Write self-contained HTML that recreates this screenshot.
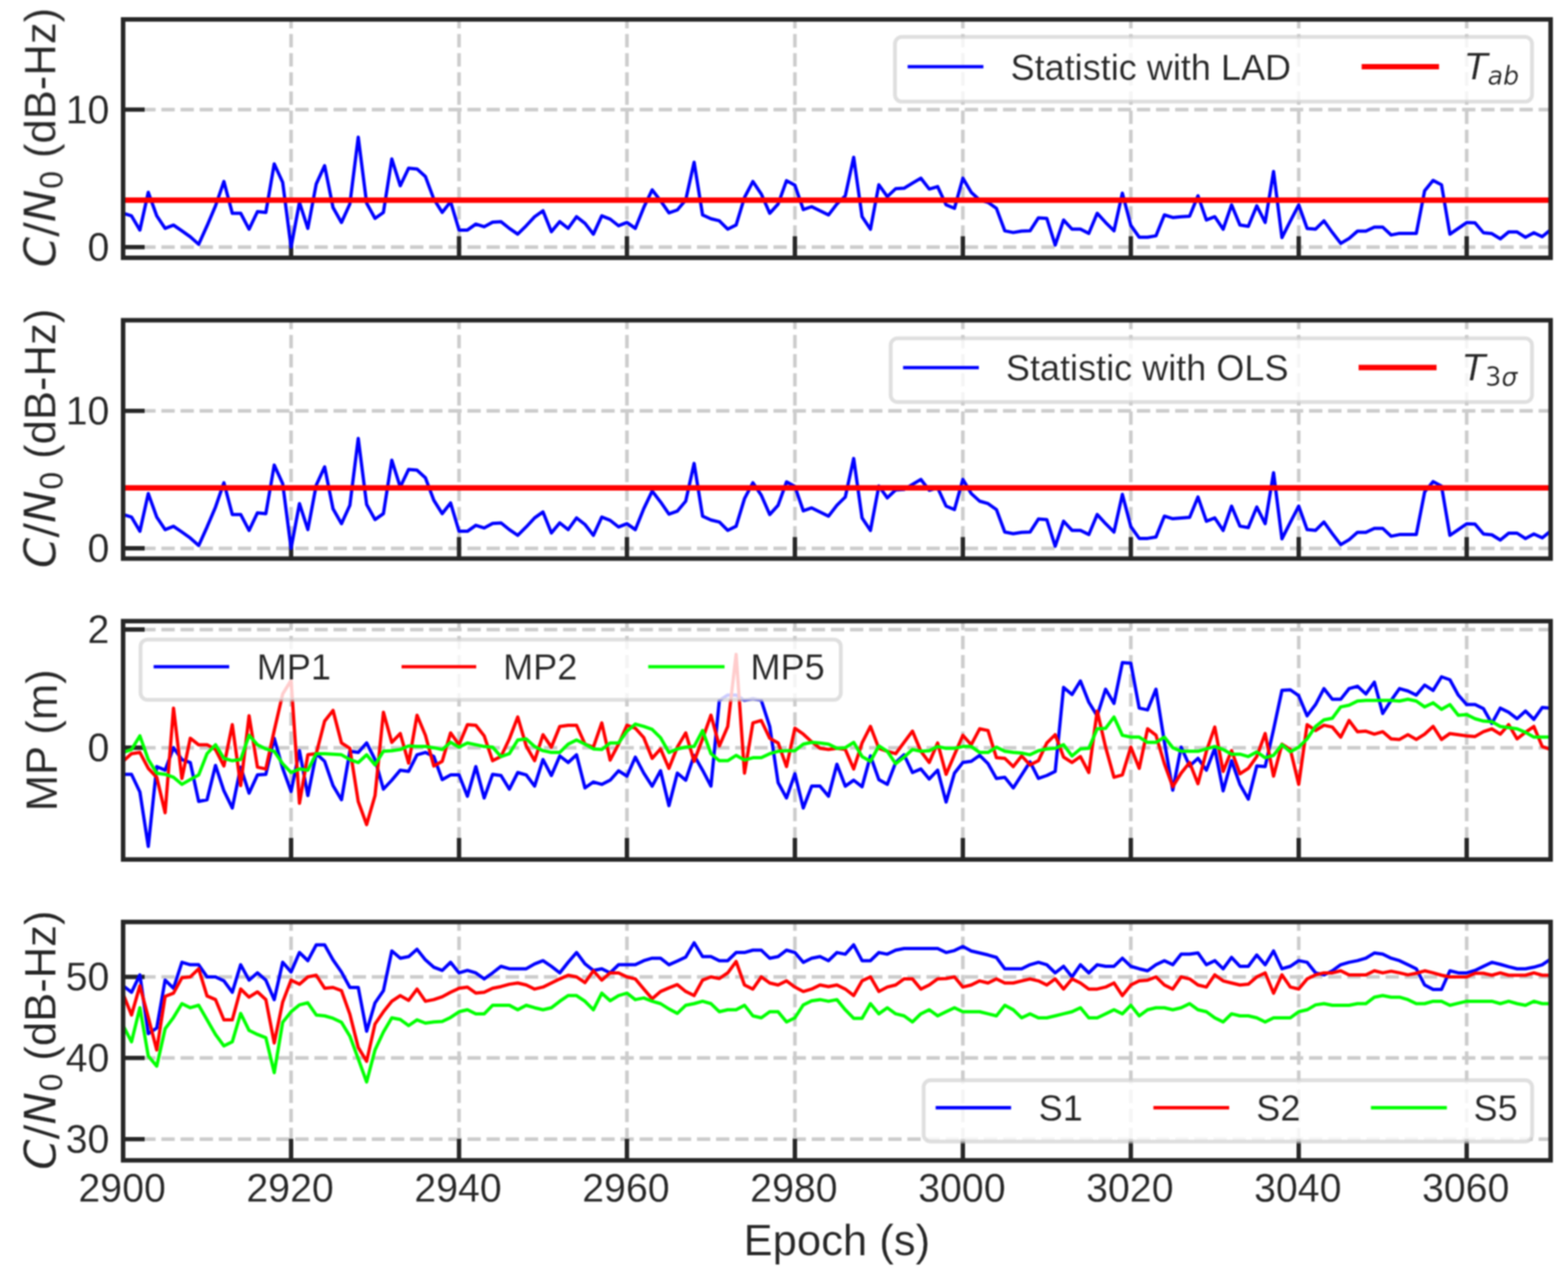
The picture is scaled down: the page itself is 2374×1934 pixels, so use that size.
<!DOCTYPE html>
<html lang="en"><head><meta charset="utf-8"><title>Statistic, MP and C/N0 versus Epoch</title>
<style>html,body{margin:0;padding:0;background:#fff}body{width:2374px;height:1934px;overflow:hidden}svg{display:block}text{font-family:'Liberation Sans', Arial, Helvetica, sans-serif;stroke:#fff;stroke-width:0.25px;paint-order:fill stroke}</style>
</head><body>
<svg width="2374" height="1934" viewBox="0 0 2374 1934" fill="#262626">
<defs>
<clipPath id="c0"><rect x="186.4" y="29.4" width="2161.3" height="361.0"/></clipPath>
<clipPath id="c1"><rect x="186.4" y="485.0" width="2161.3" height="361.0"/></clipPath>
<clipPath id="c2"><rect x="186.4" y="940.7" width="2161.3" height="361.0"/></clipPath>
<clipPath id="c3"><rect x="186.4" y="1396.3" width="2161.3" height="361.0"/></clipPath>
</defs>
<rect width="2374" height="1934" fill="#fff"/>
<g style="filter:blur(1.3px)">
<g id="panel1">
<g stroke="#cccccc" stroke-width="5.45" stroke-dasharray="20.22 8.74" fill="none">
<line x1="186.4" y1="390.4" x2="186.4" y2="29.4"/>
<line x1="440.7" y1="390.4" x2="440.7" y2="29.4"/>
<line x1="695.0" y1="390.4" x2="695.0" y2="29.4"/>
<line x1="949.2" y1="390.4" x2="949.2" y2="29.4"/>
<line x1="1203.5" y1="390.4" x2="1203.5" y2="29.4"/>
<line x1="1457.8" y1="390.4" x2="1457.8" y2="29.4"/>
<line x1="1712.1" y1="390.4" x2="1712.1" y2="29.4"/>
<line x1="1966.3" y1="390.4" x2="1966.3" y2="29.4"/>
<line x1="2220.6" y1="390.4" x2="2220.6" y2="29.4"/>
<line x1="186.4" y1="374.2" x2="2347.7" y2="374.2"/>
<line x1="186.4" y1="166.0" x2="2347.7" y2="166.0"/>
</g>
<g stroke="#262626" stroke-width="6.6">
<line x1="440.7" y1="390.4" x2="440.7" y2="357.8"/>
<line x1="695.0" y1="390.4" x2="695.0" y2="357.8"/>
<line x1="949.2" y1="390.4" x2="949.2" y2="357.8"/>
<line x1="1203.5" y1="390.4" x2="1203.5" y2="357.8"/>
<line x1="1457.8" y1="390.4" x2="1457.8" y2="357.8"/>
<line x1="1712.1" y1="390.4" x2="1712.1" y2="357.8"/>
<line x1="1966.3" y1="390.4" x2="1966.3" y2="357.8"/>
<line x1="2220.6" y1="390.4" x2="2220.6" y2="357.8"/>
<line x1="186.4" y1="374.2" x2="219.0" y2="374.2"/>
<line x1="186.4" y1="166.0" x2="219.0" y2="166.0"/>
</g>
<g clip-path="url(#c0)">
<polyline points="186.4,323.0 199.1,326.9 211.8,348.4 224.5,291.3 237.3,326.9 250.0,345.9 262.7,340.9 275.4,349.6 288.1,358.6 300.8,370.0 313.5,341.9 326.3,311.7 339.0,274.9 351.7,323.0 364.4,323.0 377.1,347.1 389.8,320.5 402.5,321.7 415.2,248.2 428.0,276.3 440.7,374.2 453.4,306.5 466.1,345.9 478.8,278.6 491.5,250.9 504.2,314.2 517.0,336.9 529.7,309.0 542.4,207.8 555.1,307.8 567.8,330.7 580.5,321.7 593.2,240.7 606.0,281.3 618.7,254.7 631.4,255.9 644.1,267.4 656.8,301.5 669.5,321.7 682.2,305.5 695.0,348.4 707.7,348.4 720.4,339.4 733.1,343.4 745.8,336.5 758.5,335.7 771.2,345.9 783.9,354.6 796.7,341.9 809.4,328.2 822.1,319.2 834.8,350.9 847.5,335.7 860.2,345.9 872.9,328.2 885.7,338.2 898.4,354.6 911.1,326.9 923.8,331.9 936.5,341.9 949.2,336.9 961.9,345.9 974.7,314.2 987.4,287.6 1000.1,304.0 1012.8,322.4 1025.5,318.0 1038.2,302.8 1050.9,245.7 1063.7,325.5 1076.4,331.3 1089.1,334.4 1101.8,347.1 1114.5,340.7 1127.2,299.0 1139.9,274.9 1152.6,293.8 1165.4,323.0 1178.1,309.0 1190.8,273.6 1203.5,280.5 1216.2,317.4 1228.9,313.0 1241.6,319.2 1254.4,325.5 1267.1,309.0 1279.8,296.5 1292.5,238.2 1305.2,328.2 1317.9,347.1 1330.6,279.9 1343.4,297.8 1356.1,285.7 1368.8,285.1 1381.5,277.4 1394.2,269.9 1406.9,286.3 1419.6,282.6 1432.4,310.3 1445.1,315.5 1457.8,269.9 1470.5,291.3 1483.2,302.8 1495.9,306.5 1508.6,315.5 1521.3,349.6 1534.1,352.1 1546.8,350.0 1559.5,349.6 1572.2,329.9 1584.9,330.7 1597.6,371.1 1610.3,333.2 1623.1,347.1 1635.8,347.1 1648.5,353.4 1661.2,323.0 1673.9,336.9 1686.6,349.6 1699.3,292.6 1712.1,341.3 1724.8,359.2 1737.5,359.2 1750.2,357.1 1762.9,325.5 1775.6,329.4 1788.3,328.2 1801.1,327.4 1813.8,296.5 1826.5,333.2 1839.2,328.2 1851.9,347.1 1864.6,310.3 1877.3,340.7 1890.0,342.8 1902.8,311.7 1915.5,336.9 1928.2,259.7 1940.9,359.8 1953.6,334.9 1966.3,310.3 1979.0,345.9 1991.8,347.1 2004.5,334.4 2017.2,352.1 2029.9,368.6 2042.6,361.1 2055.3,350.0 2068.0,350.0 2080.8,344.0 2093.5,344.0 2106.2,355.9 2118.9,353.4 2131.6,353.4 2144.3,353.4 2157.0,288.8 2169.8,273.2 2182.5,279.9 2195.2,354.6 2207.9,345.9 2220.6,337.1 2233.3,337.6 2246.0,352.5 2258.7,353.8 2271.5,361.7 2284.2,351.3 2296.9,351.3 2309.6,359.4 2322.3,352.5 2335.0,358.4 2347.7,348.0" fill="none" stroke="#0000ff" stroke-width="5.0" stroke-linejoin="round"/>
<line x1="186.4" y1="303.1" x2="2347.7" y2="303.1" stroke="#ff0000" stroke-width="8.2"/>
</g>
<rect x="186.4" y="29.4" width="2161.3" height="361.0" fill="none" stroke="#262626" stroke-width="6.8"/>
<text transform="translate(165.6,394.8) scale(0.966,1)" font-size="61.6" text-anchor="end">0</text>
<text transform="translate(165.6,186.6) scale(0.966,1)" font-size="61.6" text-anchor="end">10</text>
<text transform="translate(83.6,208.4) rotate(-90)" font-size="66.0" text-anchor="middle"><tspan font-style="italic" style="font-family:'DejaVu Sans', 'Liberation Sans', sans-serif">C</tspan><tspan style="font-family:'DejaVu Sans', 'Liberation Sans', sans-serif">/</tspan><tspan font-style="italic" style="font-family:'DejaVu Sans', 'Liberation Sans', sans-serif">N</tspan><tspan font-size="46.2" dy="10.6" style="font-family:'DejaVu Sans', 'Liberation Sans', sans-serif">0</tspan><tspan dy="-10.6"> (dB-Hz)</tspan></text>
<rect x="1355.0" y="55.9" width="964.5" height="98.0" rx="10.5" ry="10.5" fill="#fff" fill-opacity="0.8" stroke="#cccccc" stroke-opacity="0.62" stroke-width="5.8"/>
<line x1="1374.2" y1="101.0" x2="1488.9" y2="101.0" stroke="#0000ff" stroke-width="5.1"/>
<text x="1530.0" y="120.8" font-size="54.6">Statistic with LAD</text>
<line x1="2061.6" y1="101.0" x2="2178.7" y2="101.0" stroke="#ff0000" stroke-width="8.2"/>
<text x="2219.0" y="119.6" font-size="54.6"><tspan font-style="italic" style="font-family:'DejaVu Sans', 'Liberation Sans', sans-serif">T</tspan><tspan font-size="38.2" dy="8.7" font-style="italic" style="font-family:'DejaVu Sans', 'Liberation Sans', sans-serif">ab</tspan></text>
</g>
<g id="panel2">
<g stroke="#cccccc" stroke-width="5.45" stroke-dasharray="20.22 8.74" fill="none">
<line x1="186.4" y1="846.0" x2="186.4" y2="485.0"/>
<line x1="440.7" y1="846.0" x2="440.7" y2="485.0"/>
<line x1="695.0" y1="846.0" x2="695.0" y2="485.0"/>
<line x1="949.2" y1="846.0" x2="949.2" y2="485.0"/>
<line x1="1203.5" y1="846.0" x2="1203.5" y2="485.0"/>
<line x1="1457.8" y1="846.0" x2="1457.8" y2="485.0"/>
<line x1="1712.1" y1="846.0" x2="1712.1" y2="485.0"/>
<line x1="1966.3" y1="846.0" x2="1966.3" y2="485.0"/>
<line x1="2220.6" y1="846.0" x2="2220.6" y2="485.0"/>
<line x1="186.4" y1="830.4" x2="2347.7" y2="830.4"/>
<line x1="186.4" y1="622.2" x2="2347.7" y2="622.2"/>
</g>
<g stroke="#262626" stroke-width="6.6">
<line x1="440.7" y1="846.0" x2="440.7" y2="813.4"/>
<line x1="695.0" y1="846.0" x2="695.0" y2="813.4"/>
<line x1="949.2" y1="846.0" x2="949.2" y2="813.4"/>
<line x1="1203.5" y1="846.0" x2="1203.5" y2="813.4"/>
<line x1="1457.8" y1="846.0" x2="1457.8" y2="813.4"/>
<line x1="1712.1" y1="846.0" x2="1712.1" y2="813.4"/>
<line x1="1966.3" y1="846.0" x2="1966.3" y2="813.4"/>
<line x1="2220.6" y1="846.0" x2="2220.6" y2="813.4"/>
<line x1="186.4" y1="830.4" x2="219.0" y2="830.4"/>
<line x1="186.4" y1="622.2" x2="219.0" y2="622.2"/>
</g>
<g clip-path="url(#c1)">
<polyline points="186.4,779.2 199.1,783.1 211.8,804.6 224.5,747.5 237.3,783.1 250.0,802.1 262.7,797.1 275.4,805.8 288.1,814.8 300.8,826.2 313.5,798.1 326.3,767.9 339.0,731.1 351.7,779.2 364.4,779.2 377.1,803.3 389.8,776.7 402.5,777.9 415.2,704.4 428.0,732.5 440.7,830.4 453.4,762.7 466.1,802.1 478.8,734.8 491.5,707.1 504.2,770.4 517.0,793.1 529.7,765.2 542.4,664.0 555.1,764.0 567.8,786.9 580.5,777.9 593.2,696.9 606.0,737.5 618.7,710.9 631.4,712.1 644.1,723.6 656.8,757.7 669.5,777.9 682.2,761.7 695.0,804.6 707.7,804.6 720.4,795.6 733.1,799.6 745.8,792.7 758.5,791.9 771.2,802.1 783.9,810.8 796.7,798.1 809.4,784.4 822.1,775.4 834.8,807.1 847.5,791.9 860.2,802.1 872.9,784.4 885.7,794.4 898.4,810.8 911.1,783.1 923.8,788.1 936.5,798.1 949.2,793.1 961.9,802.1 974.7,770.4 987.4,743.8 1000.1,760.2 1012.8,778.6 1025.5,774.2 1038.2,759.0 1050.9,701.9 1063.7,781.7 1076.4,787.5 1089.1,790.6 1101.8,803.3 1114.5,796.9 1127.2,755.2 1139.9,731.1 1152.6,750.0 1165.4,779.2 1178.1,765.2 1190.8,729.8 1203.5,736.7 1216.2,773.6 1228.9,769.2 1241.6,775.4 1254.4,781.7 1267.1,765.2 1279.8,752.7 1292.5,694.4 1305.2,784.4 1317.9,803.3 1330.6,736.1 1343.4,754.0 1356.1,741.9 1368.8,741.3 1381.5,733.6 1394.2,726.1 1406.9,742.5 1419.6,738.8 1432.4,766.5 1445.1,771.7 1457.8,726.1 1470.5,747.5 1483.2,759.0 1495.9,762.7 1508.6,771.7 1521.3,805.8 1534.1,808.3 1546.8,806.2 1559.5,805.8 1572.2,786.1 1584.9,786.9 1597.6,827.3 1610.3,789.4 1623.1,803.3 1635.8,803.3 1648.5,809.6 1661.2,779.2 1673.9,793.1 1686.6,805.8 1699.3,748.8 1712.1,797.5 1724.8,815.4 1737.5,815.4 1750.2,813.3 1762.9,781.7 1775.6,785.6 1788.3,784.4 1801.1,783.6 1813.8,752.7 1826.5,789.4 1839.2,784.4 1851.9,803.3 1864.6,766.5 1877.3,796.9 1890.0,799.0 1902.8,767.9 1915.5,793.1 1928.2,715.9 1940.9,816.0 1953.6,791.1 1966.3,766.5 1979.0,802.1 1991.8,803.3 2004.5,790.6 2017.2,808.3 2029.9,824.8 2042.6,817.3 2055.3,806.2 2068.0,806.2 2080.8,800.2 2093.5,800.2 2106.2,812.1 2118.9,809.6 2131.6,809.6 2144.3,809.6 2157.0,745.0 2169.8,729.4 2182.5,736.1 2195.2,810.8 2207.9,802.1 2220.6,793.3 2233.3,793.8 2246.0,808.7 2258.7,810.0 2271.5,817.9 2284.2,807.5 2296.9,807.5 2309.6,815.6 2322.3,808.7 2335.0,814.6 2347.7,804.2" fill="none" stroke="#0000ff" stroke-width="5.0" stroke-linejoin="round"/>
<line x1="186.4" y1="738.8" x2="2347.7" y2="738.8" stroke="#ff0000" stroke-width="8.2"/>
</g>
<rect x="186.4" y="485.0" width="2161.3" height="361.0" fill="none" stroke="#262626" stroke-width="6.8"/>
<text transform="translate(165.6,851.0) scale(0.966,1)" font-size="61.6" text-anchor="end">0</text>
<text transform="translate(165.6,642.8) scale(0.966,1)" font-size="61.6" text-anchor="end">10</text>
<text transform="translate(83.6,664.0) rotate(-90)" font-size="66.0" text-anchor="middle"><tspan font-style="italic" style="font-family:'DejaVu Sans', 'Liberation Sans', sans-serif">C</tspan><tspan style="font-family:'DejaVu Sans', 'Liberation Sans', sans-serif">/</tspan><tspan font-style="italic" style="font-family:'DejaVu Sans', 'Liberation Sans', sans-serif">N</tspan><tspan font-size="46.2" dy="10.6" style="font-family:'DejaVu Sans', 'Liberation Sans', sans-serif">0</tspan><tspan dy="-10.6"> (dB-Hz)</tspan></text>
<rect x="1348.5" y="512.4" width="971.0" height="96.4" rx="10.5" ry="10.5" fill="#fff" fill-opacity="0.8" stroke="#cccccc" stroke-opacity="0.62" stroke-width="5.8"/>
<line x1="1367.3" y1="556.7" x2="1482.0" y2="556.7" stroke="#0000ff" stroke-width="5.1"/>
<text x="1523.0" y="576.3" font-size="54.6">Statistic with OLS</text>
<line x1="2057.0" y1="556.7" x2="2175.0" y2="556.7" stroke="#ff0000" stroke-width="8.2"/>
<text x="2215.5" y="575.7" font-size="54.6"><tspan font-style="italic" style="font-family:'DejaVu Sans', 'Liberation Sans', sans-serif">T</tspan><tspan font-size="38.2" dy="8.7" style="font-family:'DejaVu Sans', 'Liberation Sans', sans-serif">3</tspan><tspan font-size="38.2" font-style="italic" style="font-family:'DejaVu Sans', 'Liberation Sans', sans-serif">σ</tspan></text>
</g>
<g id="panel3">
<g stroke="#cccccc" stroke-width="5.45" stroke-dasharray="20.22 8.74" fill="none">
<line x1="186.4" y1="1301.7" x2="186.4" y2="940.7"/>
<line x1="440.7" y1="1301.7" x2="440.7" y2="940.7"/>
<line x1="695.0" y1="1301.7" x2="695.0" y2="940.7"/>
<line x1="949.2" y1="1301.7" x2="949.2" y2="940.7"/>
<line x1="1203.5" y1="1301.7" x2="1203.5" y2="940.7"/>
<line x1="1457.8" y1="1301.7" x2="1457.8" y2="940.7"/>
<line x1="1712.1" y1="1301.7" x2="1712.1" y2="940.7"/>
<line x1="1966.3" y1="1301.7" x2="1966.3" y2="940.7"/>
<line x1="2220.6" y1="1301.7" x2="2220.6" y2="940.7"/>
<line x1="186.4" y1="1132.4" x2="2347.7" y2="1132.4"/>
<line x1="186.4" y1="953.4" x2="2347.7" y2="953.4"/>
</g>
<g stroke="#262626" stroke-width="6.6">
<line x1="440.7" y1="1301.7" x2="440.7" y2="1269.1"/>
<line x1="695.0" y1="1301.7" x2="695.0" y2="1269.1"/>
<line x1="949.2" y1="1301.7" x2="949.2" y2="1269.1"/>
<line x1="1203.5" y1="1301.7" x2="1203.5" y2="1269.1"/>
<line x1="1457.8" y1="1301.7" x2="1457.8" y2="1269.1"/>
<line x1="1712.1" y1="1301.7" x2="1712.1" y2="1269.1"/>
<line x1="1966.3" y1="1301.7" x2="1966.3" y2="1269.1"/>
<line x1="2220.6" y1="1301.7" x2="2220.6" y2="1269.1"/>
<line x1="186.4" y1="1132.4" x2="219.0" y2="1132.4"/>
<line x1="186.4" y1="953.4" x2="219.0" y2="953.4"/>
</g>
<g clip-path="url(#c2)">
<polyline points="186.4,1172.7 199.1,1172.7 211.8,1199.5 224.5,1281.9 237.3,1161.0 250.0,1166.4 262.7,1132.4 275.4,1150.3 288.1,1154.8 300.8,1213.8 313.5,1211.2 326.3,1159.2 339.0,1197.7 351.7,1223.7 364.4,1161.9 377.1,1201.3 389.8,1173.6 402.5,1172.7 415.2,1118.1 428.0,1163.7 440.7,1198.6 453.4,1136.9 466.1,1204.9 478.8,1141.4 491.5,1153.0 504.2,1189.7 517.0,1211.2 529.7,1137.8 542.4,1139.6 555.1,1125.2 567.8,1150.3 580.5,1195.1 593.2,1181.6 606.0,1166.4 618.7,1168.2 631.4,1143.1 644.1,1139.6 656.8,1145.8 669.5,1180.7 682.2,1173.6 695.0,1173.6 707.7,1205.8 720.4,1161.0 733.1,1208.5 745.8,1172.7 758.5,1174.5 771.2,1195.1 783.9,1170.0 796.7,1173.6 809.4,1190.6 822.1,1150.3 834.8,1174.5 847.5,1144.9 860.2,1154.8 872.9,1143.1 885.7,1193.3 898.4,1184.3 911.1,1187.9 923.8,1181.6 936.5,1167.3 949.2,1175.4 961.9,1146.7 974.7,1170.9 987.4,1190.6 1000.1,1167.3 1012.8,1220.1 1025.5,1170.9 1038.2,1181.6 1050.9,1144.0 1063.7,1166.4 1076.4,1190.6 1089.1,1060.8 1101.8,1052.7 1114.5,1052.7 1127.2,1060.8 1139.9,1058.1 1152.6,1060.8 1165.4,1100.2 1178.1,1185.2 1190.8,1208.5 1203.5,1171.8 1216.2,1223.7 1228.9,1190.6 1241.6,1190.6 1254.4,1205.8 1267.1,1157.5 1279.8,1190.6 1292.5,1181.6 1305.2,1191.5 1317.9,1144.9 1330.6,1180.7 1343.4,1187.9 1356.1,1154.8 1368.8,1143.1 1381.5,1170.0 1394.2,1164.6 1406.9,1179.8 1419.6,1166.4 1432.4,1214.7 1445.1,1170.9 1457.8,1154.8 1470.5,1153.0 1483.2,1144.0 1495.9,1156.6 1508.6,1178.9 1521.3,1177.2 1534.1,1193.3 1546.8,1173.6 1559.5,1153.9 1572.2,1178.9 1584.9,1174.5 1597.6,1168.2 1610.3,1041.1 1623.1,1051.9 1635.8,1031.3 1648.5,1063.5 1661.2,1084.1 1673.9,1043.8 1686.6,1065.3 1699.3,1003.5 1712.1,1004.4 1724.8,1072.4 1737.5,1075.1 1750.2,1043.8 1762.9,1123.5 1775.6,1196.8 1788.3,1131.5 1801.1,1160.1 1813.8,1148.5 1826.5,1166.4 1839.2,1133.3 1851.9,1197.7 1864.6,1152.1 1877.3,1187.9 1890.0,1210.3 1902.8,1160.1 1915.5,1161.0 1928.2,1104.7 1940.9,1045.6 1953.6,1044.7 1966.3,1053.6 1979.0,1084.1 1991.8,1067.1 2004.5,1042.9 2017.2,1059.0 2029.9,1059.0 2042.6,1042.9 2055.3,1039.3 2068.0,1051.0 2080.8,1033.1 2093.5,1080.5 2106.2,1060.8 2118.9,1042.9 2131.6,1046.5 2144.3,1052.7 2157.0,1037.5 2169.8,1045.6 2182.5,1025.0 2195.2,1029.5 2207.9,1052.7 2220.6,1067.1 2233.3,1067.1 2246.0,1073.3 2258.7,1095.7 2271.5,1072.4 2284.2,1078.7 2296.9,1088.5 2309.6,1076.9 2322.3,1089.4 2335.0,1071.5 2347.7,1072.4" fill="none" stroke="#0000ff" stroke-width="5.0" stroke-linejoin="round"/>
<polyline points="186.4,1153.0 199.1,1141.4 211.8,1139.6 224.5,1163.7 237.3,1177.2 250.0,1230.9 262.7,1072.4 275.4,1178.9 288.1,1118.1 300.8,1127.9 313.5,1127.9 326.3,1135.1 339.0,1160.1 351.7,1097.5 364.4,1189.7 377.1,1084.1 389.8,1161.9 402.5,1164.6 415.2,1106.4 428.0,1051.0 440.7,1030.4 453.4,1216.5 466.1,1143.1 478.8,1141.4 491.5,1092.1 504.2,1076.0 517.0,1125.2 529.7,1133.3 542.4,1213.8 555.1,1248.8 567.8,1204.9 580.5,1078.7 593.2,1124.3 606.0,1110.9 618.7,1155.7 631.4,1083.2 644.1,1113.6 656.8,1160.1 669.5,1153.0 682.2,1110.0 695.0,1127.9 707.7,1097.5 720.4,1098.4 733.1,1114.5 745.8,1152.1 758.5,1145.8 771.2,1119.0 783.9,1085.9 796.7,1129.7 809.4,1152.1 822.1,1112.7 834.8,1131.5 847.5,1100.2 860.2,1098.4 872.9,1098.4 885.7,1127.0 898.4,1131.5 911.1,1094.8 923.8,1151.2 936.5,1127.0 949.2,1098.4 961.9,1102.9 974.7,1117.2 987.4,1148.5 1000.1,1134.2 1012.8,1163.7 1025.5,1131.5 1038.2,1110.0 1050.9,1153.0 1063.7,1119.0 1076.4,1083.2 1089.1,1129.7 1101.8,1100.2 1114.5,991.0 1127.2,1170.9 1139.9,1094.8 1152.6,1091.2 1165.4,1118.1 1178.1,1125.2 1190.8,1161.0 1203.5,1102.9 1216.2,1111.8 1228.9,1123.5 1241.6,1133.3 1254.4,1135.1 1267.1,1133.3 1279.8,1135.1 1292.5,1164.6 1305.2,1125.2 1317.9,1100.2 1330.6,1133.3 1343.4,1137.8 1356.1,1141.4 1368.8,1124.3 1381.5,1107.3 1394.2,1137.8 1406.9,1154.8 1419.6,1125.2 1432.4,1172.7 1445.1,1143.1 1457.8,1113.6 1470.5,1127.9 1483.2,1103.8 1495.9,1106.4 1508.6,1147.6 1521.3,1148.5 1534.1,1161.0 1546.8,1144.9 1559.5,1158.4 1572.2,1152.1 1584.9,1125.2 1597.6,1112.7 1610.3,1146.7 1623.1,1154.8 1635.8,1145.8 1648.5,1170.0 1661.2,1076.9 1673.9,1131.5 1686.6,1177.2 1699.3,1173.6 1712.1,1131.5 1724.8,1163.7 1737.5,1103.8 1750.2,1113.6 1762.9,1156.6 1775.6,1191.5 1788.3,1170.9 1801.1,1154.8 1813.8,1187.0 1826.5,1137.8 1839.2,1101.1 1851.9,1168.2 1864.6,1136.9 1877.3,1171.8 1890.0,1163.7 1902.8,1145.8 1915.5,1110.9 1928.2,1175.4 1940.9,1127.0 1953.6,1135.1 1966.3,1187.9 1979.0,1097.5 1991.8,1106.4 2004.5,1098.4 2017.2,1101.1 2029.9,1116.3 2042.6,1091.2 2055.3,1108.2 2068.0,1107.3 2080.8,1111.8 2093.5,1108.2 2106.2,1119.0 2118.9,1119.9 2131.6,1112.7 2144.3,1119.9 2157.0,1111.8 2169.8,1100.2 2182.5,1119.9 2195.2,1110.9 2207.9,1112.7 2220.6,1114.5 2233.3,1115.4 2246.0,1108.2 2258.7,1103.8 2271.5,1111.8 2284.2,1097.5 2296.9,1119.0 2309.6,1109.1 2322.3,1100.2 2335.0,1130.6 2347.7,1135.1" fill="none" stroke="#ff0000" stroke-width="5.0" stroke-linejoin="round"/>
<polyline points="186.4,1139.6 199.1,1135.1 211.8,1114.5 224.5,1150.3 237.3,1170.9 250.0,1172.7 262.7,1177.2 275.4,1187.9 288.1,1180.7 300.8,1173.6 313.5,1141.4 326.3,1127.9 339.0,1148.5 351.7,1152.1 364.4,1150.3 377.1,1113.6 389.8,1127.9 402.5,1134.2 415.2,1137.8 428.0,1156.6 440.7,1170.0 453.4,1164.6 466.1,1166.4 478.8,1141.4 491.5,1141.4 504.2,1142.2 517.0,1143.1 529.7,1150.3 542.4,1154.8 555.1,1143.1 567.8,1158.4 580.5,1137.8 593.2,1136.9 606.0,1135.1 618.7,1129.7 631.4,1130.6 644.1,1130.6 656.8,1132.4 669.5,1135.1 682.2,1124.3 695.0,1131.5 707.7,1125.2 720.4,1127.9 733.1,1130.6 745.8,1131.5 758.5,1145.8 771.2,1141.4 783.9,1120.8 796.7,1119.0 809.4,1130.6 822.1,1136.9 834.8,1139.6 847.5,1139.6 860.2,1127.0 872.9,1120.8 885.7,1127.0 898.4,1134.2 911.1,1135.1 923.8,1125.2 936.5,1125.2 949.2,1107.3 961.9,1096.6 974.7,1100.2 987.4,1104.7 1000.1,1117.2 1012.8,1139.6 1025.5,1134.2 1038.2,1131.5 1050.9,1130.6 1063.7,1106.4 1076.4,1141.4 1089.1,1152.1 1101.8,1152.1 1114.5,1144.0 1127.2,1151.2 1139.9,1147.6 1152.6,1147.6 1165.4,1141.4 1178.1,1137.8 1190.8,1136.9 1203.5,1136.9 1216.2,1127.0 1228.9,1124.3 1241.6,1125.2 1254.4,1127.0 1267.1,1133.3 1279.8,1132.4 1292.5,1124.3 1305.2,1145.8 1317.9,1153.0 1330.6,1129.7 1343.4,1137.8 1356.1,1156.6 1368.8,1146.7 1381.5,1135.1 1394.2,1137.8 1406.9,1136.9 1419.6,1130.6 1432.4,1133.3 1445.1,1133.3 1457.8,1130.6 1470.5,1130.6 1483.2,1139.6 1495.9,1139.6 1508.6,1131.5 1521.3,1137.8 1534.1,1139.6 1546.8,1140.5 1559.5,1143.1 1572.2,1136.9 1584.9,1134.2 1597.6,1133.3 1610.3,1127.9 1623.1,1144.9 1635.8,1134.2 1648.5,1133.3 1661.2,1103.8 1673.9,1102.9 1686.6,1085.9 1699.3,1113.6 1712.1,1116.3 1724.8,1116.3 1737.5,1124.3 1750.2,1124.3 1762.9,1116.3 1775.6,1132.4 1788.3,1137.8 1801.1,1137.8 1813.8,1137.8 1826.5,1134.2 1839.2,1130.6 1851.9,1135.1 1864.6,1142.2 1877.3,1142.2 1890.0,1145.8 1902.8,1138.7 1915.5,1147.6 1928.2,1144.0 1940.9,1127.9 1953.6,1138.7 1966.3,1131.5 1979.0,1119.0 1991.8,1100.2 2004.5,1090.3 2017.2,1087.7 2029.9,1070.6 2042.6,1068.0 2055.3,1061.7 2068.0,1060.8 2080.8,1060.8 2093.5,1060.8 2106.2,1060.8 2118.9,1061.7 2131.6,1059.0 2144.3,1061.7 2157.0,1070.6 2169.8,1064.4 2182.5,1074.2 2195.2,1067.1 2207.9,1083.2 2220.6,1082.3 2233.3,1088.5 2246.0,1092.1 2258.7,1093.0 2271.5,1100.2 2284.2,1102.0 2296.9,1103.8 2309.6,1109.1 2322.3,1116.3 2335.0,1116.3 2347.7,1116.3" fill="none" stroke="#00ff00" stroke-width="5.0" stroke-linejoin="round"/>
</g>
<rect x="186.4" y="940.7" width="2161.3" height="361.0" fill="none" stroke="#262626" stroke-width="6.8"/>
<text transform="translate(165.6,1153.0) scale(0.966,1)" font-size="61.6" text-anchor="end">0</text>
<text transform="translate(165.6,974.0) scale(0.966,1)" font-size="61.6" text-anchor="end">2</text>
<text transform="translate(86.0,1121.2) rotate(-90)" font-size="66.0" text-anchor="middle">MP (m)</text>
<rect x="212.8" y="968.6" width="1060.2" height="91.2" rx="10.5" ry="10.5" fill="#fff" fill-opacity="0.8" stroke="#cccccc" stroke-opacity="0.62" stroke-width="5.8"/>
<line x1="232.6" y1="1009.7" x2="347.0" y2="1009.7" stroke="#0000ff" stroke-width="5.1"/>
<text x="388.8" y="1029.2" font-size="54.6">MP1</text>
<line x1="608.0" y1="1009.7" x2="721.0" y2="1009.7" stroke="#ff0000" stroke-width="5.1"/>
<text x="761.8" y="1029.2" font-size="54.6">MP2</text>
<line x1="981.5" y1="1009.7" x2="1097.0" y2="1009.7" stroke="#00ff00" stroke-width="5.1"/>
<text x="1136.3" y="1029.2" font-size="54.6">MP5</text>
</g>
<g id="panel4">
<g stroke="#cccccc" stroke-width="5.45" stroke-dasharray="20.22 8.74" fill="none">
<line x1="186.4" y1="1757.3" x2="186.4" y2="1396.3"/>
<line x1="440.7" y1="1757.3" x2="440.7" y2="1396.3"/>
<line x1="695.0" y1="1757.3" x2="695.0" y2="1396.3"/>
<line x1="949.2" y1="1757.3" x2="949.2" y2="1396.3"/>
<line x1="1203.5" y1="1757.3" x2="1203.5" y2="1396.3"/>
<line x1="1457.8" y1="1757.3" x2="1457.8" y2="1396.3"/>
<line x1="1712.1" y1="1757.3" x2="1712.1" y2="1396.3"/>
<line x1="1966.3" y1="1757.3" x2="1966.3" y2="1396.3"/>
<line x1="2220.6" y1="1757.3" x2="2220.6" y2="1396.3"/>
<line x1="186.4" y1="1725.2" x2="2347.7" y2="1725.2"/>
<line x1="186.4" y1="1602.3" x2="2347.7" y2="1602.3"/>
<line x1="186.4" y1="1479.5" x2="2347.7" y2="1479.5"/>
</g>
<g stroke="#262626" stroke-width="6.6">
<line x1="440.7" y1="1757.3" x2="440.7" y2="1724.7"/>
<line x1="695.0" y1="1757.3" x2="695.0" y2="1724.7"/>
<line x1="949.2" y1="1757.3" x2="949.2" y2="1724.7"/>
<line x1="1203.5" y1="1757.3" x2="1203.5" y2="1724.7"/>
<line x1="1457.8" y1="1757.3" x2="1457.8" y2="1724.7"/>
<line x1="1712.1" y1="1757.3" x2="1712.1" y2="1724.7"/>
<line x1="1966.3" y1="1757.3" x2="1966.3" y2="1724.7"/>
<line x1="2220.6" y1="1757.3" x2="2220.6" y2="1724.7"/>
<line x1="186.4" y1="1725.2" x2="219.0" y2="1725.2"/>
<line x1="186.4" y1="1602.3" x2="219.0" y2="1602.3"/>
<line x1="186.4" y1="1479.5" x2="219.0" y2="1479.5"/>
</g>
<g clip-path="url(#c3)">
<polyline points="186.4,1493.0 199.1,1502.8 211.8,1476.4 224.5,1565.5 237.3,1556.9 250.0,1484.4 262.7,1496.7 275.4,1457.4 288.1,1461.1 300.8,1461.1 313.5,1479.5 326.3,1479.5 339.0,1485.6 351.7,1502.8 364.4,1461.1 377.1,1484.4 389.8,1473.4 402.5,1484.4 415.2,1513.9 428.0,1457.4 440.7,1472.1 453.4,1442.6 466.1,1454.9 478.8,1431.0 491.5,1431.0 504.2,1453.7 517.0,1472.1 529.7,1495.5 542.4,1495.5 555.1,1561.8 567.8,1518.8 580.5,1500.4 593.2,1440.2 606.0,1451.2 618.7,1448.8 631.4,1437.7 644.1,1453.7 656.8,1464.8 669.5,1469.7 682.2,1457.4 695.0,1473.4 707.7,1469.7 720.4,1473.4 733.1,1482.6 745.8,1473.4 758.5,1463.5 771.2,1467.2 783.9,1467.2 796.7,1467.2 809.4,1459.8 822.1,1454.9 834.8,1463.5 847.5,1473.4 860.2,1457.4 872.9,1442.6 885.7,1459.8 898.4,1469.7 911.1,1467.2 923.8,1473.4 936.5,1461.1 949.2,1461.1 961.9,1461.1 974.7,1454.9 987.4,1451.2 1000.1,1451.2 1012.8,1461.1 1025.5,1455.5 1038.2,1449.4 1050.9,1427.9 1063.7,1448.8 1076.4,1448.8 1089.1,1454.9 1101.8,1454.9 1114.5,1442.6 1127.2,1442.6 1139.9,1439.0 1152.6,1439.0 1165.4,1451.2 1178.1,1448.8 1190.8,1439.0 1203.5,1442.6 1216.2,1457.4 1228.9,1451.2 1241.6,1448.8 1254.4,1454.9 1267.1,1442.6 1279.8,1445.1 1292.5,1431.0 1305.2,1454.9 1317.9,1454.9 1330.6,1442.6 1343.4,1445.1 1356.1,1439.0 1368.8,1436.5 1381.5,1436.5 1394.2,1436.5 1406.9,1436.5 1419.6,1436.5 1432.4,1442.6 1445.1,1439.6 1457.8,1433.4 1470.5,1440.2 1483.2,1443.3 1495.9,1446.3 1508.6,1450.0 1521.3,1467.2 1534.1,1467.2 1546.8,1467.2 1559.5,1461.1 1572.2,1457.4 1584.9,1461.1 1597.6,1473.4 1610.3,1463.5 1623.1,1479.5 1635.8,1461.1 1648.5,1473.4 1661.2,1461.1 1673.9,1463.5 1686.6,1463.5 1699.3,1451.2 1712.1,1463.5 1724.8,1467.2 1737.5,1470.3 1750.2,1461.1 1762.9,1454.9 1775.6,1461.1 1788.3,1445.1 1801.1,1445.1 1813.8,1443.3 1826.5,1461.1 1839.2,1454.9 1851.9,1467.2 1864.6,1450.0 1877.3,1463.5 1890.0,1463.5 1902.8,1446.3 1915.5,1461.1 1928.2,1440.2 1940.9,1467.2 1953.6,1463.5 1966.3,1454.9 1979.0,1457.4 1991.8,1473.4 2004.5,1476.4 2017.2,1470.3 2029.9,1461.1 2042.6,1457.4 2055.3,1454.9 2068.0,1451.2 2080.8,1443.3 2093.5,1445.1 2106.2,1451.2 2118.9,1454.9 2131.6,1461.1 2144.3,1467.2 2157.0,1491.8 2169.8,1498.5 2182.5,1498.5 2195.2,1470.3 2207.9,1473.4 2220.6,1473.4 2233.3,1469.7 2246.0,1463.5 2258.7,1457.4 2271.5,1460.5 2284.2,1464.1 2296.9,1467.2 2309.6,1467.2 2322.3,1464.8 2335.0,1461.1 2347.7,1452.5" fill="none" stroke="#0000ff" stroke-width="5.0" stroke-linejoin="round"/>
<polyline points="186.4,1505.3 199.1,1537.2 211.8,1493.0 224.5,1540.9 237.3,1590.1 250.0,1509.0 262.7,1504.1 275.4,1480.7 288.1,1479.5 300.8,1467.2 313.5,1508.4 326.3,1513.9 339.0,1544.6 351.7,1544.6 364.4,1497.9 377.1,1510.2 389.8,1502.2 402.5,1513.9 415.2,1579.6 428.0,1517.6 440.7,1484.4 453.4,1490.6 466.1,1479.5 478.8,1477.0 491.5,1496.7 504.2,1495.5 517.0,1500.4 529.7,1536.0 542.4,1586.4 555.1,1607.3 567.8,1550.8 580.5,1532.3 593.2,1516.4 606.0,1507.8 618.7,1515.1 631.4,1497.9 644.1,1516.4 656.8,1513.9 669.5,1509.6 682.2,1502.8 695.0,1496.7 707.7,1494.9 720.4,1504.1 733.1,1502.8 745.8,1496.7 758.5,1494.2 771.2,1490.6 783.9,1488.7 796.7,1491.8 809.4,1497.9 822.1,1494.9 834.8,1488.7 847.5,1482.6 860.2,1477.0 872.9,1479.5 885.7,1488.1 898.4,1470.3 911.1,1484.4 923.8,1473.4 936.5,1473.4 949.2,1479.5 961.9,1482.6 974.7,1497.9 987.4,1512.7 1000.1,1501.6 1012.8,1496.1 1025.5,1491.2 1038.2,1501.6 1050.9,1507.8 1063.7,1484.4 1076.4,1479.5 1089.1,1482.0 1101.8,1473.4 1114.5,1456.2 1127.2,1491.8 1139.9,1497.9 1152.6,1479.5 1165.4,1488.7 1178.1,1491.8 1190.8,1485.6 1203.5,1494.9 1216.2,1501.6 1228.9,1497.9 1241.6,1491.8 1254.4,1494.2 1267.1,1491.8 1279.8,1497.9 1292.5,1507.8 1305.2,1485.6 1317.9,1479.5 1330.6,1501.6 1343.4,1494.9 1356.1,1491.8 1368.8,1482.6 1381.5,1482.6 1394.2,1497.9 1406.9,1491.8 1419.6,1482.6 1432.4,1482.0 1445.1,1479.5 1457.8,1494.9 1470.5,1491.8 1483.2,1485.6 1495.9,1488.7 1508.6,1482.6 1521.3,1488.7 1534.1,1488.7 1546.8,1485.6 1559.5,1482.6 1572.2,1485.6 1584.9,1491.8 1597.6,1482.6 1610.3,1497.9 1623.1,1482.6 1635.8,1488.7 1648.5,1497.9 1661.2,1497.9 1673.9,1494.9 1686.6,1488.7 1699.3,1507.8 1712.1,1491.8 1724.8,1485.6 1737.5,1484.4 1750.2,1479.5 1762.9,1491.8 1775.6,1497.9 1788.3,1479.5 1801.1,1482.6 1813.8,1491.8 1826.5,1494.9 1839.2,1476.4 1851.9,1485.6 1864.6,1488.7 1877.3,1491.8 1890.0,1490.6 1902.8,1479.5 1915.5,1473.4 1928.2,1504.1 1940.9,1476.4 1953.6,1494.9 1966.3,1497.9 1979.0,1482.6 1991.8,1476.4 2004.5,1473.4 2017.2,1473.4 2029.9,1470.3 2042.6,1476.4 2055.3,1476.4 2068.0,1476.4 2080.8,1470.3 2093.5,1473.4 2106.2,1470.9 2118.9,1473.4 2131.6,1476.4 2144.3,1474.0 2157.0,1470.3 2169.8,1473.4 2182.5,1477.0 2195.2,1479.5 2207.9,1479.5 2220.6,1479.5 2233.3,1474.0 2246.0,1474.0 2258.7,1477.0 2271.5,1473.4 2284.2,1477.0 2296.9,1477.0 2309.6,1477.0 2322.3,1473.4 2335.0,1477.0 2347.7,1477.0" fill="none" stroke="#ff0000" stroke-width="5.0" stroke-linejoin="round"/>
<polyline points="186.4,1553.2 199.1,1577.8 211.8,1526.2 224.5,1599.3 237.3,1614.6 250.0,1558.1 262.7,1540.9 275.4,1520.0 288.1,1526.2 300.8,1522.5 313.5,1544.6 326.3,1566.7 339.0,1583.9 351.7,1577.8 364.4,1534.8 377.1,1560.6 389.8,1566.7 402.5,1571.6 415.2,1624.5 428.0,1548.3 440.7,1532.3 453.4,1521.9 466.1,1518.8 478.8,1537.2 491.5,1538.5 504.2,1542.2 517.0,1548.3 529.7,1569.2 542.4,1603.6 555.1,1638.6 567.8,1590.1 580.5,1563.0 593.2,1541.5 606.0,1544.0 618.7,1553.2 631.4,1544.6 644.1,1549.5 656.8,1547.7 669.5,1547.1 682.2,1540.9 695.0,1532.3 707.7,1529.3 720.4,1535.4 733.1,1535.4 745.8,1522.5 758.5,1522.5 771.2,1522.5 783.9,1529.3 796.7,1522.5 809.4,1526.2 822.1,1529.3 834.8,1526.2 847.5,1516.4 860.2,1507.8 872.9,1507.8 885.7,1516.4 898.4,1529.3 911.1,1504.1 923.8,1515.7 936.5,1507.8 949.2,1504.1 961.9,1513.9 974.7,1511.4 987.4,1516.4 1000.1,1520.0 1012.8,1528.0 1025.5,1534.8 1038.2,1522.5 1050.9,1520.0 1063.7,1516.4 1076.4,1520.0 1089.1,1532.3 1101.8,1529.3 1114.5,1529.3 1127.2,1522.5 1139.9,1538.5 1152.6,1541.5 1165.4,1532.3 1178.1,1532.3 1190.8,1547.7 1203.5,1541.5 1216.2,1521.9 1228.9,1515.7 1241.6,1513.9 1254.4,1516.4 1267.1,1513.9 1279.8,1529.3 1292.5,1542.2 1305.2,1542.2 1317.9,1520.0 1330.6,1535.4 1343.4,1526.2 1356.1,1535.4 1368.8,1538.5 1381.5,1547.7 1394.2,1535.4 1406.9,1529.3 1419.6,1538.5 1432.4,1532.3 1445.1,1526.2 1457.8,1532.3 1470.5,1532.3 1483.2,1532.3 1495.9,1535.4 1508.6,1538.5 1521.3,1522.5 1534.1,1529.3 1546.8,1541.5 1559.5,1535.4 1572.2,1541.5 1584.9,1541.5 1597.6,1538.5 1610.3,1535.4 1623.1,1532.3 1635.8,1526.2 1648.5,1541.5 1661.2,1541.5 1673.9,1535.4 1686.6,1529.3 1699.3,1535.4 1712.1,1522.5 1724.8,1538.5 1737.5,1529.3 1750.2,1526.2 1762.9,1526.2 1775.6,1529.3 1788.3,1526.2 1801.1,1520.0 1813.8,1529.3 1826.5,1532.3 1839.2,1541.5 1851.9,1547.7 1864.6,1535.4 1877.3,1538.5 1890.0,1538.5 1902.8,1541.5 1915.5,1547.7 1928.2,1541.5 1940.9,1541.5 1953.6,1541.5 1966.3,1532.3 1979.0,1529.3 1991.8,1521.9 2004.5,1520.0 2017.2,1522.5 2029.9,1522.5 2042.6,1522.5 2055.3,1520.0 2068.0,1520.0 2080.8,1510.2 2093.5,1507.8 2106.2,1510.2 2118.9,1510.2 2131.6,1513.9 2144.3,1520.0 2157.0,1520.0 2169.8,1516.4 2182.5,1516.4 2195.2,1522.5 2207.9,1519.4 2220.6,1516.4 2233.3,1516.4 2246.0,1516.4 2258.7,1516.4 2271.5,1520.0 2284.2,1516.4 2296.9,1520.0 2309.6,1522.5 2322.3,1516.4 2335.0,1520.0 2347.7,1520.0" fill="none" stroke="#00ff00" stroke-width="5.0" stroke-linejoin="round"/>
</g>
<rect x="186.4" y="1396.3" width="2161.3" height="361.0" fill="none" stroke="#262626" stroke-width="6.8"/>
<text transform="translate(165.6,1745.8) scale(0.966,1)" font-size="61.6" text-anchor="end">30</text>
<text transform="translate(165.6,1622.9) scale(0.966,1)" font-size="61.6" text-anchor="end">40</text>
<text transform="translate(165.6,1500.1) scale(0.966,1)" font-size="61.6" text-anchor="end">50</text>
<text transform="translate(83.6,1575.3) rotate(-90)" font-size="66.0" text-anchor="middle"><tspan font-style="italic" style="font-family:'DejaVu Sans', 'Liberation Sans', sans-serif">C</tspan><tspan style="font-family:'DejaVu Sans', 'Liberation Sans', sans-serif">/</tspan><tspan font-style="italic" style="font-family:'DejaVu Sans', 'Liberation Sans', sans-serif">N</tspan><tspan font-size="46.2" dy="10.6" style="font-family:'DejaVu Sans', 'Liberation Sans', sans-serif">0</tspan><tspan dy="-10.6"> (dB-Hz)</tspan></text>
<text transform="translate(184.9,1819.8) scale(0.966,1)" font-size="61.6" text-anchor="middle">2900</text>
<text transform="translate(439.2,1819.8) scale(0.966,1)" font-size="61.6" text-anchor="middle">2920</text>
<text transform="translate(693.5,1819.8) scale(0.966,1)" font-size="61.6" text-anchor="middle">2940</text>
<text transform="translate(947.7,1819.8) scale(0.966,1)" font-size="61.6" text-anchor="middle">2960</text>
<text transform="translate(1202.0,1819.8) scale(0.966,1)" font-size="61.6" text-anchor="middle">2980</text>
<text transform="translate(1456.3,1819.8) scale(0.966,1)" font-size="61.6" text-anchor="middle">3000</text>
<text transform="translate(1710.6,1819.8) scale(0.966,1)" font-size="61.6" text-anchor="middle">3020</text>
<text transform="translate(1964.8,1819.8) scale(0.966,1)" font-size="61.6" text-anchor="middle">3040</text>
<text transform="translate(2219.1,1819.8) scale(0.966,1)" font-size="61.6" text-anchor="middle">3060</text>
<text x="1267.0" y="1901.0" font-size="66.0" text-anchor="middle">Epoch (s)</text>
<rect x="1398.4" y="1636.0" width="921.3" height="92.8" rx="10.5" ry="10.5" fill="#fff" fill-opacity="0.8" stroke="#cccccc" stroke-opacity="0.62" stroke-width="5.8"/>
<line x1="1416.6" y1="1677.6" x2="1530.8" y2="1677.6" stroke="#0000ff" stroke-width="5.1"/>
<text x="1572.6" y="1696.8" font-size="54.6">S1</text>
<line x1="1746.3" y1="1677.6" x2="1861.0" y2="1677.6" stroke="#ff0000" stroke-width="5.1"/>
<text x="1902.0" y="1696.8" font-size="54.6">S2</text>
<line x1="2075.6" y1="1677.6" x2="2190.6" y2="1677.6" stroke="#00ff00" stroke-width="5.1"/>
<text x="2231.0" y="1696.8" font-size="54.6">S5</text>
</g>
</g>
</svg>
</body></html>
